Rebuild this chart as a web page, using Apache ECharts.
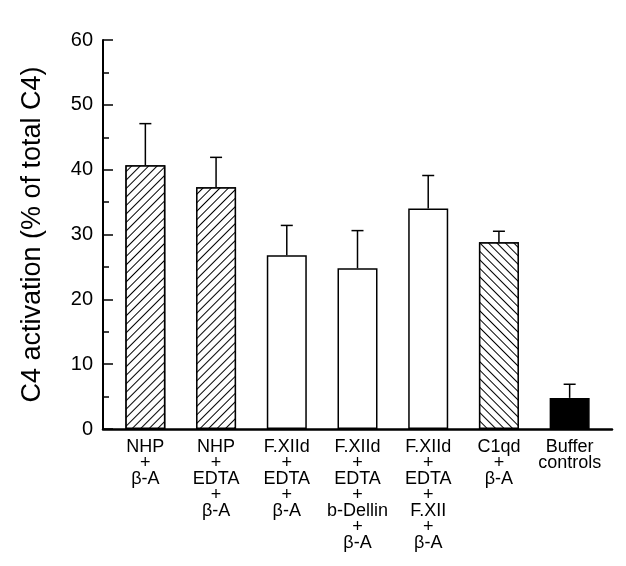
<!DOCTYPE html>
<html>
<head>
<meta charset="utf-8">
<script src="https://cdn.jsdelivr.net/npm/echarts@6/dist/echarts.min.js"></script>
<style>html,body{margin:0;padding:0;background:#fff;}#c{width:626px;height:566px;}</style>
</head>
<body>
<div id="c"></div>
<script>
var categories = [
  "NHP\n+\nβ-A",
  "NHP\n+\nEDTA\n+\nβ-A",
  "F.XIId\n+\nEDTA\n+\nβ-A",
  "F.XIId\n+\nEDTA\n+\nb-Dellin\n+\nβ-A",
  "F.XIId\n+\nEDTA\n+\nF.XII\n+\nβ-A",
  "C1qd\n+\nβ-A",
  "Buffer\ncontrols"
];
var means = [40.7, 37.3, 26.8, 24.8, 34.0, 28.8, 4.8];
var errors = [6.4, 4.6, 4.6, 5.8, 5.1, 1.7, 2.1];
var fills = ["hatchRight", "hatchRight", "open", "open", "open", "hatchLeft", "solid"];
var yTicks = { min: 0, max: 60, interval: 10 };
var yTitle = "C4 activation (% of total C4)";

var FONT = "'Liberation Sans', Arial, Helvetica, sans-serif";

function styleFor(kind) {
  var base = { borderColor: '#000', borderWidth: 1.5, color: '#fff' };
  if (kind === 'solid') base.color = '#000';
  if (kind === 'hatchRight' || kind === 'hatchLeft') {
    base.decal = {
      symbol: 'rect', symbolSize: 1,
      dashArrayX: [1, 0], dashArrayY: [1, 4.5],
      rotation: kind === 'hatchRight' ? -Math.PI / 4 : Math.PI / 4,
      color: '#000', backgroundColor: '#fff'
    };
  }
  return base;
}

var barData = means.map(function (v, i) {
  return { value: v, itemStyle: styleFor(fills[i]) };
});
var errData = means.map(function (v, i) { return [i, v, v + errors[i]]; });

var chart = echarts.init(document.getElementById('c'), null, { renderer: 'canvas' });
chart.setOption({
  animation: false,
  backgroundColor: '#fff',
  aria: { enabled: false, decal: { show: false } },
  grid: [
    { left: 110, right: 21, top: 40, bottom: 137 },
    { left: 103, right: 14, top: 40, bottom: 137 }
  ],
  xAxis: [
    {
      type: 'category', gridIndex: 0, data: categories,
      axisLine: { show: false }, axisTick: { show: false },
      axisLabel: { interval: 0, color: '#000', fontFamily: FONT, fontSize: 18, lineHeight: 16, margin: 10 }
    },
    {
      type: 'value', gridIndex: 1, min: 0, max: 1,
      axisLine: { show: true, lineStyle: { color: '#000', width: 2.5 } },
      axisTick: { show: false }, axisLabel: { show: false }, splitLine: { show: false }
    }
  ],
  yAxis: [
    { type: 'value', gridIndex: 0, min: yTicks.min, max: yTicks.max, interval: yTicks.interval, show: false },
    {
      type: 'value', gridIndex: 1, min: yTicks.min, max: yTicks.max, interval: yTicks.interval,
      name: yTitle, nameLocation: 'middle', nameRotate: 90, nameGap: 57,
      nameTextStyle: { color: '#000', fontFamily: FONT, fontSize: 27 },
      axisLine: { show: true, lineStyle: { color: '#000', width: 2 } },
      axisTick: { show: true, inside: true, length: 10, lineStyle: { color: '#000', width: 1.5 } },
      minorTick: { show: true, splitNumber: 2, length: 6, lineStyle: { color: '#000', width: 1.5 } },
      axisLabel: { color: '#000', fontFamily: FONT, fontSize: 20, margin: 10 },
      splitLine: { show: false }
    }
  ],
  series: [
    {
      type: 'custom', xAxisIndex: 0, yAxisIndex: 0, z: 1,
      data: errData,
      renderItem: function (params, api) {
        var base = api.coord([api.value(0), api.value(1)]);
        var top = api.coord([api.value(0), api.value(2)]);
        var half = 6;
        return {
          type: 'group',
          children: [
            { type: 'line', shape: { x1: base[0], y1: base[1], x2: top[0], y2: top[1] }, style: { stroke: '#000', lineWidth: 1.5 } },
            { type: 'line', shape: { x1: top[0] - half, y1: top[1], x2: top[0] + half, y2: top[1] }, style: { stroke: '#000', lineWidth: 1.5 } }
          ]
        };
      }
    },
    {
      type: 'bar', xAxisIndex: 0, yAxisIndex: 0, z: 2,
      barWidth: 40, data: barData
    }
  ]
});
</script>
</body>
</html>
